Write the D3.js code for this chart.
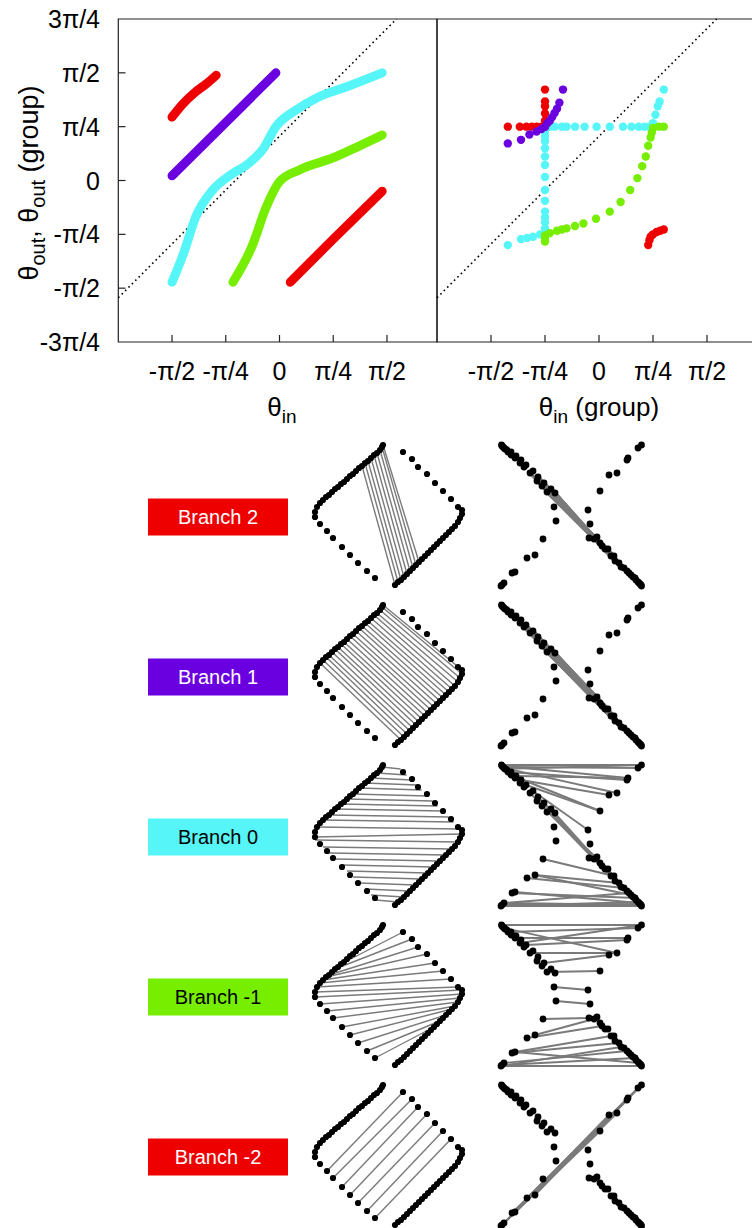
<!DOCTYPE html>
<meta charset="utf-8">
<script src="https://d3js.org/d3.v7.min.js"></script>
<style>
  body { margin: 0; background: #fff; }
  svg { font-family: "Liberation Sans", Arial, sans-serif; display: block; }
</style>
<body>
<div id="my_dataviz"></div>
<script>

// ---------- data (angles in degrees, 45 deg = pi/4) ----------
var yTicks = [-135, -90, -45, 0, 45, 90, 135];
var yTickLabels = ["-3π/4", "-π/2", "-π/4", "0", "π/4", "π/2", "3π/4"];
var xTicks = [-90, -45, 0, 45, 90];
var xTickLabels = ["-π/2", "-π/4", "0", "π/4", "π/2"];

var dottedLine = [[-135, -98], [98, 135]];

// continuous branches (left panel)
var curve2a = [[-90, 53], [-81, 64], [-71, 73.5], [-61, 81], [-53, 88]];
var curve2b = [[9, -85], [45, -49], [86, -9]];
var curve1 = [[-90, 4], [-3, 90]];
var curve0 = [[-90, -85], [-80, -60], [-70, -30], [-56, -8], [-42, 4], [-25, 15], [-14, 26], [-3, 45], [14, 59], [31, 69], [58, 79], [86, 90]];
var curveM1 = [[-39, -85], [-23, -55], [-11, -22], [0, -1], [17, 9], [45, 19], [67, 29], [86, 38]];

// group angles (right panel)
var groupCyan = [[-45, 45], [-41, 45], [-37, 45], [-31, 45], [-27, 45], [-20, 45], [-12, 45], [-2, 45], [9, 45], [20, 45], [27, 45], [33, 45], [38, 45], [42, 45], [45, 45],
  [-45, 41], [-45, 37], [-45, 33], [-45, 27], [-45, 20], [-45, 13], [-45, 3], [-45, -8], [-45, -17], [-45, -26], [-45, -31], [-45, -35], [-45, -40], [-45, -44], [-45, -48],
  [-76, -54], [-65, -49], [-60, -48], [-55, -47], [-49, -45],
  [45, 48], [47, 55], [49, 62], [50.5, 66], [54, 76]];
var groupGreen = [[-45, -51], [-45, -48], [-45, -46], [-41, -44], [-35, -42], [-31, -41], [-27, -40], [-20, -38], [-13, -36], [-2.5, -32], [9, -26], [18, -18], [26, -8], [32, 2], [36, 12], [39, 20], [41, 29], [43, 36], [44, 40], [45, 44], [50, 45], [54, 45]];
var groupRed = [[-76, 45], [-66, 45], [-60.5, 45], [-56, 45], [-52, 45], [-48, 45], [-45, 45], [-45, 50], [-45, 56], [-45, 62], [-45, 66], [-45, 76],
  [41, -54], [42, -50], [43, -47], [45, -45], [48, -43], [51, -42], [54, -41]];
var groupPurple = [[-76, 31], [-65, 34], [-58, 38.5], [-52, 41], [-48, 43], [-45, 45], [-43, 48], [-41, 50], [-39, 53], [-37, 56.5], [-35, 60], [-33, 65], [-30, 76]];

// branch labels
var branchNames = ["Branch 2", "Branch 1", "Branch 0", "Branch -1", "Branch -2"];
var branchColors = ["#ee0000", "#6a00e0", "#55f5f8", "#77ee00", "#ee0000"];
var branchText = ["#fff", "#fff", "#000", "#000", "#fff"];

// square diagram dots (local units)
var sqLT = [[-67, 72], [-67, 67], [-65, 62], [-62, 58], [-59, 55], [-56, 52], [-53, 50], [-50, 47], [-47, 44], [-44, 42], [-41, 39], [-38, 37], [-35, 34], [-32, 31], [-29, 29], [-26, 26], [-23, 23], [-20, 21], [-17, 18], [-14, 16], [-11, 13], [-8, 10], [-5, 8], [-2, 5], [0, 2], [1, 0]];
var sqRB = [[13, 140], [16, 137], [19, 135], [22, 132], [25, 129], [28, 126], [31, 123], [34, 120], [37, 117], [40, 114], [43, 111], [46, 108], [49, 105], [52, 102], [55, 99], [58, 96], [61, 93], [64, 90], [67, 87], [70, 84], [73, 81], [76, 77], [78, 73], [80, 69], [80, 65]];
var sqTR = [[21, 7], [30, 14], [36, 22], [45, 29], [53, 38], [61, 46], [69, 54], [76, 62]];
var sqBL = [[-62, 79], [-55, 86], [-49, 93], [-40, 102], [-32, 110], [-24, 118], [-15, 126], [-7, 133]];

// cross diagram dots (local units)
var xLT = [[556, 76], [554, 62], [555, 48], [547, 47], [551, 44], [542, 41], [544, 38], [537, 36], [538, 32], [530, 28], [533, 26], [524, 22], [526, 20], [520, 18], [521, 15], [515, 13], [516, 11], [511, 10], [511, 7], [508, 7], [507, 5], [505, 4], [504, 3], [503, 2], [502, 1], [501.5, 0]];
var xRB = [[641.5, 141], [641, 140], [640, 139], [639, 138], [638, 137], [636, 135], [635, 133], [633, 132], [631, 130], [629, 128], [627, 126], [624, 123], [621, 122], [619, 118], [615, 116], [614, 111], [611, 111], [608, 104], [605, 104], [602, 101], [600, 98], [597, 92], [594, 94], [589, 93], [590, 79]];
var xTR = [[641.5, 0], [638, 3], [628, 13], [627, 15], [617, 28], [609, 30], [600, 46], [588, 65]];
var xBL = [[543, 94], [535, 110], [527, 113], [515, 127], [512, 128], [504, 138], [502, 140], [501, 141]];

// links between dots, square diagrams
var sq2 = [["lt17", "rb0"], ["lt18", "rb1"], ["lt19", "rb2"], ["lt20", "rb3"], ["lt21", "rb4"], ["lt22", "rb5"], ["lt23", "rb6"], ["lt24", "rb7"], ["lt25", "rb8"]];
var sq1 = [["lt3", "rb2"], ["lt4", "rb3"], ["lt5", "rb4"], ["lt6", "rb5"], ["lt7", "rb6"], ["lt8", "rb7"], ["lt9", "rb8"], ["lt10", "rb9"], ["lt11", "rb10"], ["lt12", "rb11"], ["lt13", "rb12"], ["lt14", "rb13"], ["lt15", "rb14"], ["lt16", "rb15"], ["lt17", "rb16"], ["lt18", "rb17"], ["lt19", "rb18"], ["lt20", "rb19"], ["lt21", "rb20"], ["lt22", "rb21"], ["lt23", "rb22"], ["lt24", "rb23"], ["lt25", "rb24"]];
var sq0 = [["lt24", [18.6, 4]], ["lt22", [24.6, 10]], ["lt20", [29.6, 15]], ["lt18", [34.6, 20]], ["lt16", [39.6, 25]], ["lt14", [45.6, 31]], ["lt12", [50.6, 36]], ["lt10", [55.6, 41]], ["lt8", [60.6, 46]], ["lt6", [66.6, 52]], ["lt4", [71.6, 57]], ["lt2", [78, 64]],
  ["lt0", "rb23"], [[-67, 75], "rb21"], [[-59, 82], "rb19"], [[-53, 88], "rb17"], [[-47, 94], "rb15"], [[-41, 100], "rb13"], [[-35, 106], "rb11"], [[-29, 112], "rb9"], [[-23, 118], "rb7"], [[-17, 124], "rb5"], [[-11, 130], "rb3"], [[-6, 135], "rb1"]];
var sqM1 = [["tr0", "lt10"], ["tr1", "lt8"], ["tr2", "lt6"], ["tr3", "lt5"], ["tr4", "lt4"], ["tr5", "lt3"], ["tr6", "lt2"], ["tr7", "lt1"], ["lt0", "rb24"],
  ["bl0", "rb23"], ["bl1", "rb22"], ["bl2", "rb21"], ["bl3", "rb20"], ["bl4", "rb19"], ["bl5", "rb17"], ["bl6", "rb15"], ["bl7", "rb13"]];
var sqM2 = [["tr0", "bl1"], ["tr1", "bl2"], ["tr2", "bl3"], ["tr3", "bl4"], ["tr4", "bl5"], ["tr5", "bl6"], ["tr6", "bl7"]];

// links between dots, cross diagrams
var x2 = [["lt6", "rb14"], ["lt7", "rb13"], ["lt5", "rb15"], ["lt4", "rb16"], ["lt3", "rb17"], ["lt2", "rb18"], ["lt8", "rb12"], ["lt6", "rb16"], ["lt4", "rb14"],
  ["lt7", "rb15"], ["lt5", "rb13"], ["lt8", "rb14"], ["lt3", "rb16"], ["lt9", "rb13"], ["lt4", "rb18"]];
var x1 = [["lt11", "rb10"], ["lt9", "rb12"], ["lt7", "rb14"], ["lt5", "rb16"], ["lt3", "rb18"], ["lt12", "rb9"], ["lt10", "rb11"], ["lt8", "rb13"], ["lt6", "rb15"], ["lt4", "rb17"], ["lt2", "rb19"],
  ["lt10", "rb13"], ["lt8", "rb15"], ["lt6", "rb17"], ["lt12", "rb11"], ["lt4", "rb19"], ["lt9", "rb10"], ["lt7", "rb12"], ["lt5", "rb14"]];
var x0 = [["lt25", "tr0"], ["lt23", "tr1"], ["lt24", "tr2"], ["lt21", "tr0"], ["lt19", "tr3"], ["lt22", "tr4"],
  ["lt16", "tr2"], ["lt14", "tr5"], ["lt12", "tr6"], ["lt17", "tr6"], ["lt10", "tr7"],
  ["lt8", "rb16"], ["lt6", "rb18"], ["lt9", "rb14"], ["lt7", "rb15"], ["lt5", "rb17"], ["lt4", "rb19"],
  ["rb0", "bl7"], ["rb2", "bl6"], ["rb1", "bl5"], ["rb4", "bl7"], ["rb6", "bl4"], ["rb3", "bl3"], ["rb9", "bl5"], ["rb11", "bl2"], ["rb13", "bl1"], ["rb8", "bl1"], ["rb15", "bl0"]];
var xM1 = [["lt3", "tr6"], ["lt1", "tr7"], ["lt6", "tr5"], ["lt9", "tr4"], ["lt12", "tr3"], ["lt15", "tr2"], ["lt19", "tr1"], ["lt25", "tr0"], ["lt22", "tr4"], ["lt13", "tr0"],
  ["lt0", "rb24"],
  ["bl1", "rb22"], ["bl0", "rb23"], ["bl2", "rb19"], ["bl3", "rb16"], ["bl4", "rb13"], ["bl5", "rb10"], ["bl6", "rb6"], ["bl7", "rb0"], ["bl3", "rb3"], ["bl7", "rb12"]];
var xM2 = sqM2;

var rowTops = [445, 605, 765, 925, 1085];
var sqLinks = [sq2, sq1, sq0, sqM1, sqM2];
var xLinks = [x2, x1, x0, xM1, xM2];

// ---------- drawing ----------
var W = 752, H = 1228;
var svg = d3.select("#my_dataviz").append("svg")
  .attr("width", W).attr("height", H);

var yScale = d3.scaleLinear().domain([-135, 135]).range([342, 19]);
var xLeft = d3.scaleLinear().domain([-135, 135]).range([118.3, 440.7]);
var xRight = d3.scaleLinear().domain([-135, 135]).range([437, 761]);

function panel(x, x0, x1) {
  var g = svg.append("g");
  // frame
  g.append("path")
    .attr("d", "M" + x1 + ",19H" + x0 + "V342H" + x1 + (x1 < W ? "V19" : ""))
    .attr("fill", "none").attr("stroke", "#222").attr("stroke-width", 1.2);
  // x ticks
  g.selectAll(".xt").data(xTicks).enter().append("line")
    .attr("y1", 342).attr("y2", 335)
    .attr("stroke", "#222").attr("stroke-width", 1.2)
    .attr("x1", function (d) { return x(d); }).attr("x2", function (d) { return x(d); });
  g.selectAll(".xl").data(xTicks).enter().append("text")
    .attr("x", function (d) { return x(d); }).attr("y", 380)
    .attr("text-anchor", "middle").style("font-size", "25px")
    .text(function (d, i) { return xTickLabels[i]; });
  // dotted diagonal
  g.append("path").datum(dottedLine)
    .attr("d", d3.line().x(function (d) { return x(d[0]); }).y(function (d) { return yScale(d[1]); }))
    .attr("fill", "none").attr("stroke", "#000").attr("stroke-width", 1.6)
    .attr("stroke-dasharray", "1.6,3.2");
  return g;
}

var gl = panel(xLeft, 118.3, 437);
var gr = panel(xRight, 437, 760);

// y ticks on left panel
gl.selectAll(".yt").data(yTicks.slice(1, -1)).enter().append("line")
  .attr("x1", 118.3).attr("x2", 125.5)
  .attr("y1", function (d) { return yScale(d); }).attr("y2", function (d) { return yScale(d); })
  .attr("stroke", "#222").attr("stroke-width", 1.2);
gl.selectAll(".yl").data(yTicks).enter().append("text")
  .attr("x", 100).attr("y", function (d) { return yScale(d) + 9; })
  .attr("text-anchor", "end").style("font-size", "25px")
  .text(function (d, i) { return yTickLabels[i]; });

// branch curves
var lineL = d3.line().curve(d3.curveMonotoneX)
  .x(function (d) { return xLeft(d[0]); }).y(function (d) { return yScale(d[1]); });
[[curve0, branchColors[2]], [curveM1, branchColors[3]], [curve1, branchColors[1]], [curve2a, branchColors[0]], [curve2b, branchColors[4]]]
  .forEach(function (c) {
    gl.append("path").datum(c[0]).attr("d", lineL)
      .attr("fill", "none").attr("stroke", c[1]).attr("stroke-width", 9)
      .attr("stroke-linecap", "round").attr("stroke-linejoin", "round");
  });

// group dots
[[groupCyan, branchColors[2]], [groupGreen, branchColors[3]], [groupRed, branchColors[0]], [groupPurple, branchColors[1]]]
  .forEach(function (c) {
    gr.append("g").selectAll("circle").data(c[0]).enter().append("circle")
      .attr("cx", function (d) { return xRight(d[0]); })
      .attr("cy", function (d) { return yScale(d[1]); })
      .attr("r", 4.2).attr("fill", c[1]);
  });

// axis titles
var yt = svg.append("text").attr("transform", "translate(38,183) rotate(-90)")
  .attr("text-anchor", "middle").style("font-size", "27px");
yt.append("tspan").text("θ");
yt.append("tspan").attr("dy", 7).style("font-size", "20px").text("out");
yt.append("tspan").attr("dy", -7).text(", θ");
yt.append("tspan").attr("dy", 7).style("font-size", "20px").text("out");
yt.append("tspan").attr("dy", -7).text(" (group)");

function xTitle(cx, extra) {
  var t = svg.append("text").attr("x", cx).attr("y", 416)
    .attr("text-anchor", "middle").style("font-size", "26px");
  t.append("tspan").text("θ");
  t.append("tspan").attr("dy", 7).style("font-size", "19px").text("in");
  if (extra) t.append("tspan").attr("dy", -7).text(extra);
}
xTitle(282, null);
xTitle(599, " (group)");

// ---------- bottom diagrams ----------
function resolve(ref, sides) {
  if (typeof ref !== "string") return ref;
  return sides[ref.slice(0, 2)][+ref.slice(2)];
}

var sqSides = { lt: sqLT, rb: sqRB, tr: sqTR, bl: sqBL };
var xSides = { lt: xLT, rb: xRB, tr: xTR, bl: xBL };
var allSq = sqLT.concat(sqRB, sqTR, sqBL);
var allX = xLT.concat(xRB, xTR, xBL);

rowTops.forEach(function (top, r) {
  var g = svg.append("g");
  var cy = top + 72;
  g.append("rect").attr("x", 148).attr("y", cy - 18.5).attr("width", 140).attr("height", 37)
    .attr("fill", branchColors[r]);
  g.append("text").attr("x", 218).attr("y", cy + 7).attr("text-anchor", "middle")
    .style("font-size", "20px").attr("fill", branchText[r]).text(branchNames[r]);

  var sx = d3.scaleLinear().domain([0, 100]).range([382, 482]);
  var sy = d3.scaleLinear().domain([0, 100]).range([top, top + 100]);
  var xx = d3.scaleLinear().domain([500, 600]).range([500, 600]);

  g.append("g").selectAll("line").data(sqLinks[r]).enter().append("line")
    .each(function (d) {
      var a = resolve(d[0], sqSides), b = resolve(d[1], sqSides);
      d3.select(this).attr("x1", sx(a[0])).attr("y1", sy(a[1])).attr("x2", sx(b[0])).attr("y2", sy(b[1]));
    })
    .attr("stroke", "#7a7a7a").attr("stroke-width", 1.4);
  g.append("g").selectAll("circle").data(allSq).enter().append("circle")
    .attr("cx", function (d) { return sx(d[0]); }).attr("cy", function (d) { return sy(d[1]); })
    .attr("r", 3.1).attr("fill", "#000");

  g.append("g").selectAll("line").data(xLinks[r]).enter().append("line")
    .each(function (d) {
      var a = resolve(d[0], xSides), b = resolve(d[1], xSides);
      d3.select(this).attr("x1", xx(a[0])).attr("y1", sy(a[1])).attr("x2", xx(b[0])).attr("y2", sy(b[1]));
    })
    .attr("stroke", "#7a7a7a").attr("stroke-width", r < 2 ? 3.4 : 1.9);
  g.append("g").selectAll("circle").data(allX).enter().append("circle")
    .attr("cx", function (d) { return xx(d[0]); }).attr("cy", function (d) { return sy(d[1]); })
    .attr("r", 3.4).attr("fill", "#000");
});

</script>
</body>
